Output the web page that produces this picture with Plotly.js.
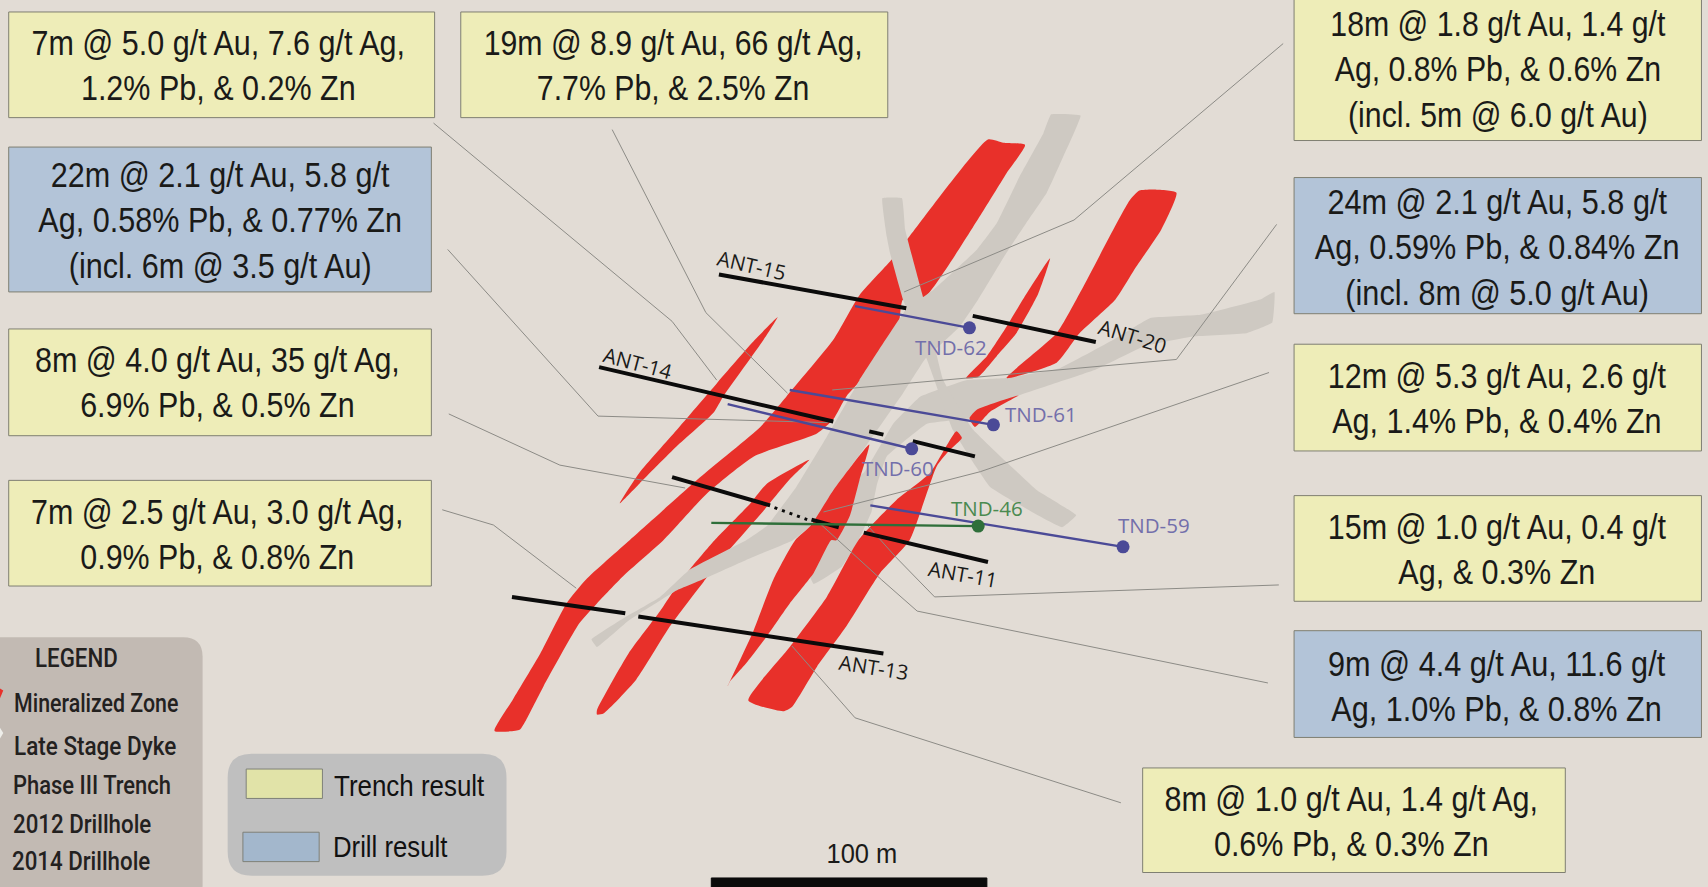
<!DOCTYPE html>
<html><head><meta charset="utf-8">
<script src="https://cdn.plot.ly/plotly-3.0.1.min.js"></script>
<style>html,body{margin:0;padding:0;background:#e2dcd5;overflow:hidden}</style>
</head><body><div id="chart" style="width:1708px;height:887px"></div>
<script>
// Polygons and lines are in picture units (0..1568 by 0..814.3), mapped by the plot's own axes.
const dykeLowerX=[1170,1168,1144,1095,1050,1004,933,890,851,814,805,800,788,773,747,740,765,793,820,845,887,924,973,1022,1056,1102,1157];
const dykeLowerY=[268,296,306,309,318,340,364,384,389,419,445,470,496,520,536,520,450,434,389,364,349,347,338,312,292,289,275];
const redMainX=[907,921,941,924,903,848,829,823,777,765,750,692,649,609,572,548,532,499,483,477,454,471,496,520,538,578,643,698,722,765,789,818,835];
const redMainY=[128,131,133,159,193,274,275,312,364,385,398,419,453,496,529,554,572,630,661,670,671,642,600,554,532,496,438,392,364,312,271,239,217];
const redLensX=[714,701,664,655,621,587,569,587,621,658,693];
const redLensY=[291,312,364,379,410,444,462,434,395,352,312];
const redThirdX=[743,725,700,665,646,615,584,554,548,548,577,606,618,633,656,689,704];
const redThirdY=[422,440,470,510,534,575,624,655,656,652,600,561,543,523,496,462,444];
const redFourthX=[798,789,780,768,763,747,725,704,685,670,668,691,710,730,744,765];
const redFourthY=[408,441,474,496,496,526,554,584,609,626,630,581,532,496,483,450];
const redFifthX=[878,883,872,860,835,808,777,750,727,719,687,725,759,788,823,854];
const redFifthY=[396,402,413,428,496,526,575,612,649,653,643,594,548,496,459,434];
const redSlimX=[964,953,933,915,898,887,906,924,939];
const redSlimY=[237,270,306,327,346,347,327,300,275];
const redRightX=[1080,1066,1043,1024,991,970,924,970,993,1037,1046,1059];
const redRightY=[177,211,245,275,306,333,347,306,266,184,175,174];
const redSmallX=[935,897,890,895,909];
const redSmallY=[363,376,384,392,378];
const dykeMainX=[965,992,976,961,942,924,898,881,849,829,796,765,744,728,685,647,621,578,548,543,575,606,633,685,704,731,759,777,789,832,857,897,915,936,958];
const dykeMainY=[105,106,144,177,205,232,275,300,330,361,408,450,483,496,514,531,542,569,594,587,566,548,523,496,483,447,401,370,349,284,266,229,205,162,122];
const dykeCrossX=[810,828,831,848,866,893,952,988,975,909,875,851,829,817,814];
const dykeCrossY=[182,182,211,275,349,394,450,473,484,447,395,330,275,232,217];

const leaderXs=[[398,617,658],[562,648,723],[411,549,760],[412,514,629],[406,453,529],
  [1178,986,830],[1172,1080,764],[1165,900,756],[1174,858,822,797],[1164,842,809,752],[1029,785,727]];
const leaderYs=[[113,295,349],[119,287,361],[229,382,388],[380,427,448],[468,482,540],
  [40,202,268],[206,330,358],[342,433,470],[537,548,511,483],[627,561,532,480],[737,659,593]];

const trenchXs=[[660,832],[893,1006],[550,765],[798,811],[838,895],[617,707],[745,770],[793,907],[470,574],[586,811]];
const trenchYs=[[252,283],[290,314],[337,387],[396,399],[405,419],[438,464],[477,484],[489,516],[548,563],[566,600]];
const dottedX=[711,741];
const dottedY=[466,477];

const holeNames=["TND-62","TND-61","TND-60","TND-59","TND-46"];
const holeX0=[785,725,668,799,653];
const holeY0=[281,358,371,464,480];
const holeX1=[890,912,837,1031,898];
const holeY1=[301,390,412,502,483];
const holeColors=["#4b4a97","#4b4a97","#4b4a97","#4b4a97","#2f6f3a"];
const holeLabelX=[873,956,824,1059,906];
const holeLabelY=[319,380,430,482,466];
const holeLabelColors=["#736fab","#736fab","#736fab","#736fab","#4a8a50"];

const trenchNames=["ANT-15","ANT-20","ANT-14","ANT-11","ANT-13"];
const trenchLabelX=[690,1040,586,884,802];
const trenchLabelY=[243,308,333,527,612];
const trenchLabelRot=[13,17,15,10,9];

const boxLeft=[8,423,8,8,8,1188,1188,1188,1188,1188,1049];
const boxRight=[399,815,396,396,396,1562,1562,1562,1562,1562,1437];
const boxTop=[11,11,135,302,441,-3,163,316,455,579,705];
const boxBottom=[108,108,268,400,538,129,288,414,552,677,801];
const boxKinds=["t","t","d","t","t","t","d","t","t","d","t"];
const boxTextX=[201,618,202,200,200,1375,1374,1374,1374,1374,1241];
const boxTextY=[60.5,60.5,202,351,491,63.5,227,365.5,504.5,630,754.5];
const boxTextWidth=[343,348,334,335,342,308,335,311,311,310,343];
const boxTexts=[
 "7m @ 5.0 g/t Au, 7.6 g/t Ag,<br>1.2% Pb, & 0.2% Zn",
 "19m @ 8.9 g/t Au, 66 g/t Ag,<br>7.7% Pb, & 2.5% Zn",
 "22m @ 2.1 g/t Au, 5.8 g/t<br>Ag, 0.58% Pb, & 0.77% Zn<br>(incl. 6m @ 3.5 g/t Au)",
 "8m @ 4.0 g/t Au, 35 g/t Ag,<br>6.9% Pb, & 0.5% Zn",
 "7m @ 2.5 g/t Au, 3.0 g/t Ag,<br>0.9% Pb, & 0.8% Zn",
 "18m @ 1.8 g/t Au, 1.4 g/t<br>Ag, 0.8% Pb, & 0.6% Zn<br>(incl. 5m @ 6.0 g/t Au)",
 "24m @ 2.1 g/t Au, 5.8 g/t<br>Ag, 0.59% Pb, & 0.84% Zn<br>(incl. 8m @ 5.0 g/t Au)",
 "12m @ 5.3 g/t Au, 2.6 g/t<br>Ag, 1.4% Pb, & 0.4% Zn",
 "15m @ 1.0 g/t Au, 0.4 g/t<br>Ag, & 0.3% Zn",
 "9m @ 4.4 g/t Au, 11.6 g/t<br>Ag, 1.0% Pb, & 0.8% Zn",
 "8m @ 1.0 g/t Au, 1.4 g/t Ag,<br>0.6% Pb, & 0.3% Zn"];

const legendItems=["LEGEND","Mineralized Zone","Late Stage Dyke","Phase III Trench","2012 Drillhole","2014 Drillhole"];
const legendX=[30,11,11,10,10,9];
const legendY=[604,645,685,721,756,790];
const legendWidth=[76,151,149,145,127,127];
const keyItems=["Trench result","Drill result"];
const keyTextX=[305,304];
const keyTextY=[722,778];
const keyWidth=[138,105];
const keySwatchX0=[226,223], keySwatchX1=[296,293];
const keySwatchY0=[706,764], keySwatchY1=[733,791];

const RED="#e8302a", DYKE="#cec9c2", BG="#e2dcd5", YEL="#eeedb8", BLU="#b3c4d8";
const SANS='"Liberation Sans",sans-serif';
const MEDIUM='Roboto,"Liberation Sans",sans-serif';
const traces=[];
function poly(x,y,fill,smooth){traces.push({x:x.concat(x[0]),y:y.concat(y[0]),mode:"lines",fill:"toself",fillcolor:fill,
  line:smooth?{width:0,color:fill,shape:"spline",smoothing:smooth}:{width:0,color:fill},hoverinfo:"skip",showlegend:false});}
function line(x,y,color,w,dash){traces.push({x:x,y:y,mode:"lines",line:{width:w,color:color,dash:dash||"solid"},hoverinfo:"skip",showlegend:false});}
function rect(x0,x1,y0,y1,fill,border){traces.push({x:[x0,x1,x1,x0,x0],y:[y0,y0,y1,y1,y0],mode:"lines",fill:"toself",fillcolor:fill,line:{width:1,color:border},hoverinfo:"skip",showlegend:false});}

poly(dykeLowerX,dykeLowerY,DYKE,0.25);
poly(redMainX,redMainY,RED,0.5);
poly(redLensX,redLensY,RED,0.5);
poly(redThirdX,redThirdY,RED,0.5);
poly(dykeCrossX,dykeCrossY,DYKE,0.25);
poly(dykeMainX,dykeMainY,DYKE,0.25);
poly(redFourthX,redFourthY,RED,0.5);
poly(redFifthX,redFifthY,RED,0.5);
poly(redSlimX,redSlimY,RED,0.5);
poly(redRightX,redRightY,RED,0.5);
poly(redSmallX,redSmallY,RED,0.5);
leaderXs.forEach((x,i)=>line(x,leaderYs[i],"#8c8b86",1));
trenchXs.forEach((x,i)=>line(x,trenchYs[i],"#0b0b0b",4));
line(dottedX,dottedY,"#0b0b0b",3,"3px,5px");
holeNames.forEach((n,i)=>{
  line([holeX0[i],holeX1[i]],[holeY0[i],holeY1[i]],holeColors[i],2.4);
  traces.push({x:[holeX1[i]],y:[holeY1[i]],mode:"markers",marker:{size:13,color:holeColors[i]},hoverinfo:"skip",showlegend:false});
});
boxLeft.forEach((l,i)=>rect(l,boxRight[i],boxTop[i],boxBottom[i],boxKinds[i]==="t"?YEL:BLU,"#7f7f72"));
keySwatchX0.forEach((l,i)=>rect(l,keySwatchX1[i],keySwatchY0[i],keySwatchY1[i],i?"#a3b7cc":"#e1e3a8","#7e8078"));
rect(653,906,806,816,"#0b0b0b","#0b0b0b");
poly([0,3,0],[632,634,641],RED);
poly([0,3,0],[668,673,678],"#eeeeea");

function panel(x0,x1,y0,y1,r,fill){return {type:"path",layer:"below",xref:"x",yref:"y",fillcolor:fill,line:{width:0},
 path:`M${x0+r},${y0} L${x1-r},${y0} Q${x1},${y0} ${x1},${y0+r} L${x1},${y1-r} Q${x1},${y1} ${x1-r},${y1} L${x0+r},${y1} Q${x0},${y1} ${x0},${y1-r} L${x0},${y0+r} Q${x0},${y0} ${x0+r},${y0} Z`};}

const ann=[], annWidth=[];
function label(t,x,y,size,color,family,anchor,rot,width,weight){
  ann.push({text:t,x:x,y:y,xref:"x",yref:"y",showarrow:false,xanchor:anchor||"center",yanchor:"middle",align:"center",textangle:rot||0,font:{size:size,color:color,family:family,weight:weight||400}});
  annWidth.push(width||0);
}
boxTexts.forEach((t,i)=>label(t,boxTextX[i],boxTextY[i],35,"#1a1a18",SANS,"center",0,boxTextWidth[i]));
holeNames.forEach((n,i)=>label(n,holeLabelX[i],holeLabelY[i],20.5,holeLabelColors[i],'"Open Sans",sans-serif'));
trenchNames.forEach((n,i)=>label(n,trenchLabelX[i],trenchLabelY[i],20.5,"#1a1a18",'"Open Sans",sans-serif',"center",trenchLabelRot[i]));
legendItems.forEach((n,i)=>label(n,legendX[i],legendY[i],26,"#23211f",MEDIUM,"left",0,legendWidth[i],500));
keyItems.forEach((n,i)=>label(n,keyTextX[i],keyTextY[i],29,"#111",SANS,"left",0,keyWidth[i]));
label("100 m",791,784,28,"#1a1a18",SANS,"center",0,65);

const unit=1708/1568;
Plotly.newPlot("chart",traces,{
 width:1708,height:887,margin:{l:0,r:0,t:0,b:0},paper_bgcolor:BG,plot_bgcolor:BG,showlegend:false,
 xaxis:{range:[0,1568],visible:false,fixedrange:true},
 yaxis:{range:[814.3,0],visible:false,fixedrange:true},
 shapes:[panel(-20,186,585,830,18,"#c2bab3"),panel(209,465,692,804,22,"#bfbfbf")],
 annotations:ann
},{displayModeBar:false,staticPlot:true}).then(()=>{
  // The installed fonts have no narrow cut, so the text is condensed sideways to its measured width.
  document.querySelectorAll("#chart .annotation").forEach(g=>{
    const i=+g.getAttribute("data-index"), w=annWidth[i];
    const t=g.querySelector("text.annotation-text");
    if(!w||!t) return;
    const b=t.getBBox(), s=w*unit/b.width;
    const c=ann[i].xanchor==="left"?b.x:b.x+b.width/2;
    t.setAttribute("transform",`translate(${c} 0) scale(${s} 1) translate(${-c} 0)`);
  });
});
</script></body></html>
